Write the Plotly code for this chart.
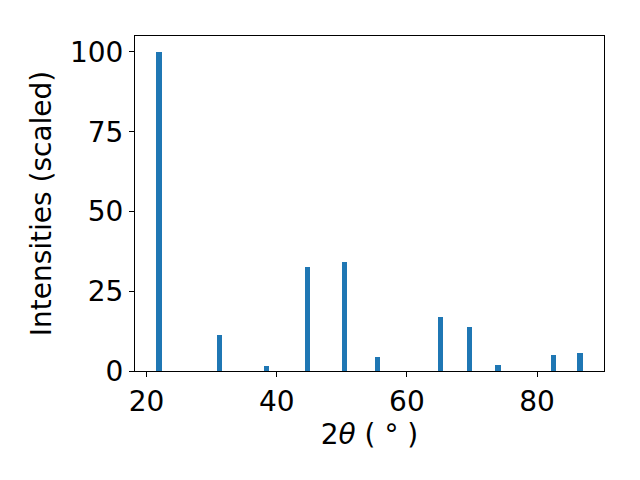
import plotly.graph_objects as go

two_theta = [21.9, 31.2, 38.4, 44.7, 50.4, 55.5, 65.1, 69.6, 74.0, 82.5, 86.6]
intensity = [100.0, 11.4, 1.7, 32.7, 34.3, 4.5, 16.9, 13.8, 1.9, 5.1, 5.7]
bar_width = 0.8

x_ticks = [20, 40, 60, 80]
y_ticks = [0, 25, 50, 75, 100]

fig = go.Figure(go.Bar(
    x=two_theta, y=intensity, width=bar_width,
    marker=dict(color="#1f77b4", line=dict(width=0)),
))

font = dict(family="DejaVu Sans", size=28, color="black")

lo = min(two_theta) - bar_width / 2
hi = max(two_theta) + bar_width / 2
pad = 0.05 * (hi - lo)

# page body has an 8px default margin; compensate
fig.update_layout(
    width=640, height=480,
    margin=dict(l=127, r=44, t=28, b=117, autoexpand=False),
    paper_bgcolor="white", plot_bgcolor="white",
    font=font, showlegend=False, bargap=0,
    xaxis=dict(
        range=[lo - pad, hi + pad],
        tickvals=x_ticks, ticks="outside", ticklen=5, tickwidth=1, tickcolor="black",
        tickfont=font,
        showline=True, linecolor="black", linewidth=1, mirror=True,
        showgrid=False, zeroline=False,
        title=dict(text="2<i>θ</i> ( ° )", font=font, standoff=3),
    ),
    yaxis=dict(
        range=[0, 105],
        tickvals=y_ticks, ticks="outside", ticklen=5, tickwidth=1, tickcolor="black",
        tickfont=font,
        showline=True, linecolor="black", linewidth=1, mirror=True,
        showgrid=False, zeroline=False,
        title=dict(text="Intensities (scaled)", font=font, standoff=10),
    ),
)

fig.write_html("out.html")
